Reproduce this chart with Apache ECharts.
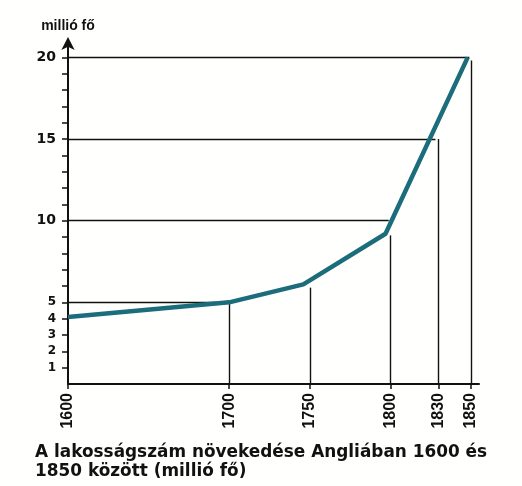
<!DOCTYPE html>
<html>
<head>
<meta charset="utf-8">
<script src="https://cdn.jsdelivr.net/npm/echarts@6/dist/echarts.min.js"></script>
<style>
  html, body { margin: 0; padding: 0; background: #fffffd; }
  #main { width: 522px; height: 486px; }
</style>
</head>
<body>
<div id="main"></div>
<script>
var myChart = echarts.init(document.getElementById('main'), null, { renderer: 'canvas' });

// population of England (million)
var years = [1600, 1700, 1746, 1797, 1848];
var population = [4.1, 5, 6.1, 9.2, 20];

// tick years shown on the x axis
var yearTicks = [1600, 1700, 1750, 1800, 1830, 1850];
// labelled values on the y axis
var yLabels = [1, 2, 3, 4, 5, 10, 15, 20];

// guide lines: horizontal [value, year it reaches], vertical [year, value it reaches]
var hGuides = [[5, 1700], [10, 1799], [15, 1828], [20, 1849]];
var vGuides = [[1700, 5], [1750, 5.9], [1800, 9.1], [1830, 15], [1850, 19.8]];

var yTicks = [];
for (var i = 1; i <= 20; i++) yTicks.push(i);

var guideData = [];
hGuides.forEach(function (g) {
    guideData.push([{ coord: [1600, g[0]] }, { coord: [g[1], g[0]] }]);
});
vGuides.forEach(function (g) {
    guideData.push([{ coord: [g[0], 0] }, { coord: [g[0], g[1]] }]);
});

var fontMain = '"DejaVu Sans", sans-serif';

var option = {
    backgroundColor: '#fffffd',
    animation: false,
    title: {
        text: 'A lakosságszám növekedése Angliában 1600 és\n1850 között (millió fő)',
        left: 35,
        top: 443,
        padding: 0,
        textStyle: {
            fontFamily: fontMain,
            fontSize: 16.9,
            fontWeight: 'bold',
            color: '#111',
            lineHeight: 19
        }
    },
    grid: {
        left: 68,
        right: 43,
        top: 41,
        bottom: 102,
        containLabel: false
    },
    xAxis: {
        type: 'value',
        min: 1600,
        max: 1855,
        splitLine: { show: false },
        axisLine: { show: true, lineStyle: { color: '#111', width: 2 } },
        axisTick: {
            show: true,
            customValues: yearTicks,
            length: 5,
            lineStyle: { color: '#111', width: 1.5 }
        },
        axisLabel: {
            customValues: yearTicks,
            rotate: 90,
            margin: 9,
            color: '#111',
            fontFamily: '"Liberation Sans Narrow", "Liberation Sans", sans-serif',
            fontSize: 16,
            fontWeight: 'bold',
            formatter: function (v) { return String(v); }
        }
    },
    yAxis: {
        type: 'value',
        min: 0,
        max: 21,
        name: 'millió fő',
        nameLocation: 'end',
        nameGap: 8,
        nameTextStyle: {
            color: '#111',
            fontFamily: '"Liberation Sans", Arial, sans-serif',
            fontSize: 14,
            fontWeight: 'bold',
            align: 'center'
        },
        splitLine: { show: false },
        axisLine: {
            show: true,
            symbol: ['none', 'arrow'],
            symbolSize: [10, 13],
            symbolOffset: [0, 4],
            lineStyle: { color: '#111', width: 2 }
        },
        axisTick: {
            show: true,
            customValues: yTicks,
            length: 6,
            lineStyle: { color: '#111', width: 1.5 }
        },
        axisLabel: {
            customValues: yLabels,
            margin: 12,
            color: '#111',
            fontFamily: fontMain,
            fontWeight: 'bold',
            formatter: function (v) {
                return v >= 10 ? '{b|' + v + '}' : '{s|' + v + '}';
            },
            rich: {
                b: { fontSize: 14, fontWeight: 'bold', fontFamily: fontMain, color: '#111' },
                s: { fontSize: 12, fontWeight: 'bold', fontFamily: fontMain, color: '#111' }
            }
        }
    },
    series: [
        {
            type: 'line',
            data: years.map(function (y, i) { return [y, population[i]]; }),
            symbol: 'none',
            lineStyle: { color: '#1b6d7b', width: 4.5, join: 'round' },
            z: 5,
            markLine: {
                silent: true,
                symbol: ['none', 'none'],
                label: { show: false },
                lineStyle: { color: '#111', width: 1.4, type: 'solid' },
                data: guideData
            }
        }
    ]
};

myChart.setOption(option);
window.addEventListener('resize', myChart.resize);
</script>
</body>
</html>
